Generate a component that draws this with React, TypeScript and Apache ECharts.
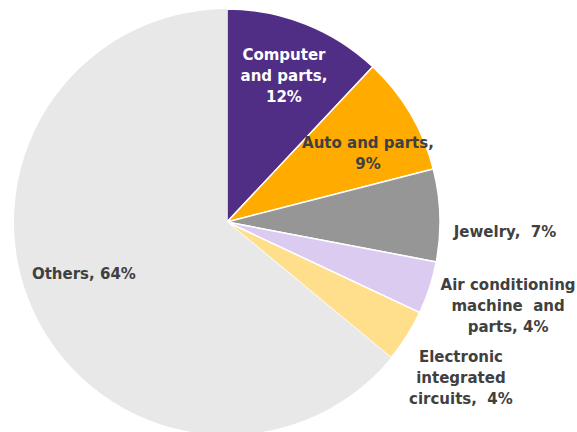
import React, { useEffect, useRef } from "react";
import * as echarts from "echarts";

const categories = [
  "Computer\nand parts",
  "Auto and parts",
  "Jewelry",
  "Air conditioning\nmachine and\nparts",
  "Electronic\nintegrated\ncircuits",
  "Others",
];
const shares = [12, 9, 7, 4, 4, 64];
const sliceColors = ["#512E85", "#FFAB00", "#969696", "#DCCBF0", "#FFDF8C", "#E8E8E8"];
const labelColors = ["#FFFFFF", "#404040", "#404040", "#404040", "#404040", "#404040"];
// label anchor in polar form: [radius fraction, angle clockwise from top (deg)]
const labelPolar: [number, number][] = [
  [0.736, 21.3],
  [0.735, 64.2],
  [1.306, 92.1],
  [1.377, 106.6],
  [1.32, 123.7],
  [0.715, 250],
];
// label text layout: category then value
const labelFormats = [
  "Computer\nand parts,\n{v}%",
  "Auto and parts,\n{v}%",
  "Jewelry,  {v}%",
  "Air conditioning\nmachine  and\nparts, {v}%",
  "Electronic\nintegrated\ncircuits,  {v}%",
  "Others, {v}%",
];

const CX = 227;
const CY = 222;
const R = 213;

export default function App() {
  const ref = useRef<HTMLDivElement>(null);
  useEffect(() => {
    if (!ref.current) return;
    const chart = echarts.init(ref.current, null, { renderer: "svg" });
    const data = categories.map((name, i) => ({
      name,
      value: shares[i],
      itemStyle: {
        color: sliceColors[i],
        borderColor: "#FFFFFF",
        borderWidth: i === 5 ? 0 : 1.5,
      },
      label: {
        color: labelColors[i],
        formatter: labelFormats[i].replace("{v}", String(shares[i])),
      },
    }));
    chart.setOption({
      animation: false,
      backgroundColor: "#FFFFFF",
      series: [
        {
          type: "pie",
          center: [CX, CY],
          radius: [0, R],
          startAngle: 90,
          clockwise: true,
          data,
          label: {
            show: true,
            position: "inside",
            fontFamily: "DejaVu Sans",
            fontWeight: "bold",
            fontSize: 15,
            lineHeight: 21,
            align: "center",
            verticalAlign: "middle",
          },
          labelLine: { show: false },
          emphasis: { disabled: true },
          labelLayout: (params: any) => {
            const [f, a] = labelPolar[params.dataIndex];
            const rad = (a * Math.PI) / 180;
            return {
              x: CX + f * R * Math.sin(rad),
              y: CY - f * R * Math.cos(rad),
              align: "center",
              verticalAlign: "middle",
            };
          },
        },
      ],
    });
    return () => chart.dispose();
  }, []);
  return (
    <div
      ref={ref}
      style={{ position: "fixed", left: 0, top: 0, width: 577, height: 432 }}
    />
  );
}
